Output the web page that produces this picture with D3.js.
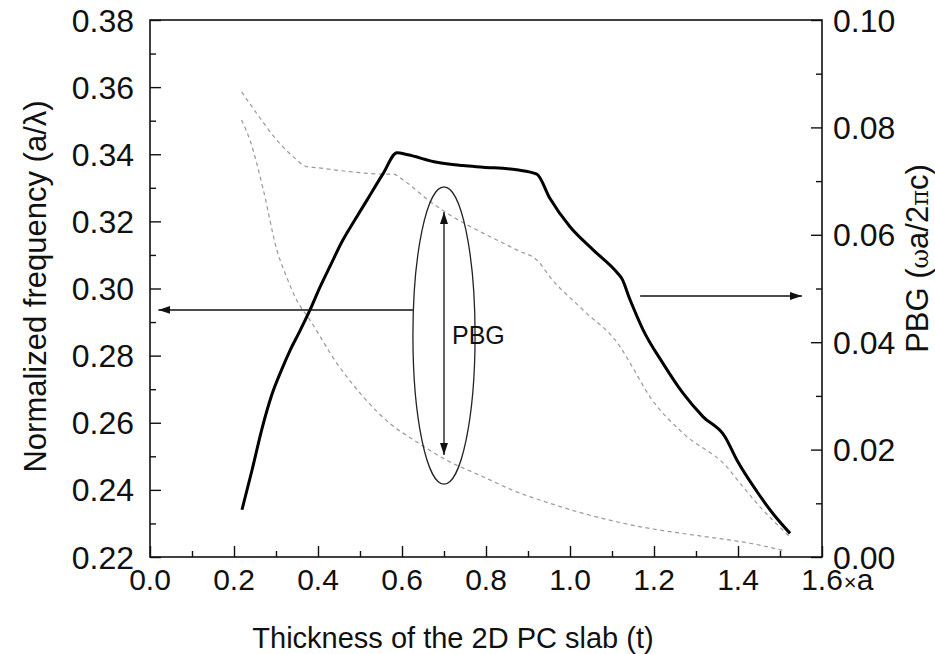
<!DOCTYPE html>
<html>
<head>
<meta charset="utf-8">
<script src="https://cdn.jsdelivr.net/npm/d3@7/dist/d3.min.js"></script>
<style>
  body { margin: 0; background: #fff; }
  text { font-family: "Liberation Sans", Arial, sans-serif; fill: #111; }
</style>
</head>
<body>
<div class="chart"></div>
<script>
// thickness t (in units of a)
const pbgT = [0.219, 0.243, 0.267, 0.290, 0.314, 0.333, 0.357, 0.381, 0.405, 0.429, 0.457, 0.488, 0.517, 0.555, 0.588, 0.614, 0.683, 0.745, 0.793, 0.873, 0.921, 0.952, 1.000, 1.055, 1.114, 1.123, 1.143, 1.174, 1.221, 1.269, 1.317, 1.369, 1.397, 1.445, 1.483, 1.524];
// photonic band gap width (right axis)
const pbgVal = [0.0088, 0.0162, 0.0240, 0.0302, 0.0350, 0.0384, 0.0421, 0.0460, 0.0503, 0.0542, 0.0587, 0.0628, 0.0665, 0.0714, 0.0753, 0.0749, 0.0735, 0.0729, 0.0726, 0.0721, 0.0713, 0.0668, 0.0615, 0.0572, 0.0528, 0.0519, 0.0479, 0.0423, 0.0361, 0.0305, 0.0261, 0.0224, 0.0181, 0.0122, 0.0081, 0.0044];

// upper band edge (left axis)
const upperT = [0.218, 0.254, 0.302, 0.341, 0.373, 0.397, 0.476, 0.555, 0.579, 0.603, 0.667, 0.714, 0.793, 0.873, 0.925, 0.952, 1.031, 1.119, 1.143, 1.190, 1.269, 1.373, 1.405, 1.452, 1.507, 1.524];
const upperVal = [0.3586, 0.3522, 0.3442, 0.3393, 0.3363, 0.3360, 0.3348, 0.3341, 0.3341, 0.3323, 0.3259, 0.3219, 0.3165, 0.3115, 0.3080, 0.3035, 0.2936, 0.2827, 0.2778, 0.2678, 0.2569, 0.2469, 0.2420, 0.2350, 0.2280, 0.2259];

// lower band edge (left axis)
const lowerT = [0.218, 0.238, 0.270, 0.302, 0.325, 0.349, 0.381, 0.445, 0.508, 0.571, 0.635, 0.698, 0.793, 0.873, 0.952, 1.031, 1.111, 1.190, 1.269, 1.349, 1.429, 1.512];
const lowerVal = [0.3502, 0.3442, 0.3293, 0.3115, 0.3035, 0.2966, 0.2906, 0.2777, 0.2677, 0.2598, 0.2543, 0.2494, 0.2439, 0.2394, 0.2360, 0.2330, 0.2305, 0.2285, 0.2270, 0.2256, 0.2241, 0.2218];

const xTicks = [0.0, 0.2, 0.4, 0.6, 0.8, 1.0, 1.2, 1.4, 1.6];
const yLeftTicks = [0.22, 0.24, 0.26, 0.28, 0.30, 0.32, 0.34, 0.36, 0.38];
const yRightTicks = [0.00, 0.02, 0.04, 0.06, 0.08, 0.10];

const W = 935, H = 654;
const mLeft = 150, mRight = 822, mTop = 20, mBottom = 557;

const x = d3.scaleLinear().domain([0, 1.6]).range([mLeft, mRight]);
const yL = d3.scaleLinear().domain([0.22, 0.38]).range([mBottom, mTop]);
const yR = d3.scaleLinear().domain([0, 0.10]).range([mBottom, mTop]);

const svg = d3.select('div.chart').append('svg')
  .attr('width', W).attr('height', H);

// arrow head
svg.append('defs').append('marker')
  .attr('id', 'head')
  .attr('viewBox', '0 0 12 8')
  .attr('refX', 12).attr('refY', 4)
  .attr('markerWidth', 12).attr('markerHeight', 8)
  .attr('markerUnits', 'userSpaceOnUse')
  .attr('orient', 'auto-start-reverse')
  .append('path').attr('d', 'M0,0L12,4L0,8Z').attr('fill', '#111');

// axes, ticks pointing inward
const axisStroke = g => {
  g.select('.domain').remove();
  g.selectAll('line').attr('stroke', '#111').attr('stroke-width', 1.4);
};

svg.append('g')
  .attr('transform', `translate(0,${mBottom})`)
  .call(d3.axisBottom(x).tickValues(d3.range(0.1, 1.6, 0.2)).tickSize(-6).tickFormat(''))
  .call(axisStroke);
svg.append('g')
  .attr('transform', `translate(0,${mBottom})`)
  .call(d3.axisBottom(x).tickValues(xTicks).tickSize(-11).tickFormat(''))
  .call(axisStroke);

svg.append('g')
  .attr('transform', `translate(${mLeft},0)`)
  .call(d3.axisLeft(yL).tickValues(d3.range(0.23, 0.38, 0.02)).tickSize(-6).tickFormat(''))
  .call(axisStroke);
svg.append('g')
  .attr('transform', `translate(${mLeft},0)`)
  .call(d3.axisLeft(yL).tickValues(yLeftTicks).tickSize(-11).tickFormat(''))
  .call(axisStroke);

svg.append('g')
  .attr('transform', `translate(${mRight},0)`)
  .call(d3.axisRight(yR).tickValues(d3.range(0.01, 0.1, 0.02)).tickSize(-6).tickFormat(''))
  .call(axisStroke);
svg.append('g')
  .attr('transform', `translate(${mRight},0)`)
  .call(d3.axisRight(yR).tickValues(yRightTicks).tickSize(-11).tickFormat(''))
  .call(axisStroke);

// frame
svg.append('rect')
  .attr('x', mLeft).attr('y', mTop)
  .attr('width', mRight - mLeft).attr('height', mBottom - mTop)
  .attr('fill', 'none').attr('stroke', '#111').attr('stroke-width', 1.6);

// tick labels
const fmt2 = d3.format('.2f');
svg.append('g').selectAll('text')
  .data(yLeftTicks).enter().append('text')
  .attr('x', mLeft - 16).attr('y', d => yL(d))
  .attr('dy', '0.36em')
  .attr('text-anchor', 'end')
  .style('font-size', '32px')
  .text(fmt2);

svg.append('g').selectAll('text')
  .data(yRightTicks).enter().append('text')
  .attr('x', mRight + 11).attr('y', d => yR(d))
  .attr('dy', '0.36em')
  .style('font-size', '32px')
  .text(fmt2);

const xLab = svg.append('g').selectAll('text')
  .data(xTicks).enter().append('text')
  .attr('x', d => x(d)).attr('y', mBottom + 33)
  .attr('text-anchor', 'middle')
  .style('font-size', '30px')
  .text(d3.format('.1f'));
// last label carries the unit: "1.6×a"
const lastLab = xLab.filter(d => d === 1.6);
const lastW = lastLab.node().getComputedTextLength();
lastLab.attr('text-anchor', 'start').attr('x', x(1.6) - lastW / 2);
lastLab.append('tspan').attr('dx', 1).style('font-size', '22px').text('×');
lastLab.append('tspan').text('a');

// axis titles
svg.append('text')
  .attr('x', (mLeft + mRight) / 2 - 33).attr('y', 648)
  .attr('text-anchor', 'middle')
  .style('font-size', '29px')
  .text('Thickness of the 2D PC slab (t)');

svg.append('text')
  .attr('transform', `translate(46,${(mTop + mBottom) / 2 - 2}) rotate(-90)`)
  .attr('text-anchor', 'middle')
  .style('font-size', '31px')
  .text('Normalized frequency (a/λ)');

svg.append('text')
  .attr('transform', `translate(928,${(mTop + mBottom) / 2 - 30}) rotate(-90)`)
  .attr('text-anchor', 'middle')
  .style('font-size', '31px')
  .html('PBG (<tspan style="font-family:\'DejaVu Serif\',serif;font-size:24px">ω</tspan>a/2<tspan style="font-family:\'DejaVu Serif\',serif;font-size:24px">π</tspan>c)');

// curves
const zip = (a, b) => a.map((v, i) => [v, b[i]]);

svg.append('path')
  .datum(zip(upperT, upperVal))
  .attr('fill', 'none').attr('stroke', '#9a9a9a').attr('stroke-width', 1.2)
  .attr('stroke-dasharray', '4,3.5')
  .attr('d', d3.line().x(d => x(d[0])).y(d => yL(d[1])).curve(d3.curveMonotoneX));

svg.append('path')
  .datum(zip(lowerT, lowerVal))
  .attr('fill', 'none').attr('stroke', '#9a9a9a').attr('stroke-width', 1.2)
  .attr('stroke-dasharray', '4,3.5')
  .attr('d', d3.line().x(d => x(d[0])).y(d => yL(d[1])).curve(d3.curveMonotoneX));

svg.append('path')
  .datum(zip(pbgT, pbgVal))
  .attr('fill', 'none').attr('stroke', '#000').attr('stroke-width', 3)
  .attr('stroke-linejoin', 'round')
  .attr('d', d3.line().x(d => x(d[0])).y(d => yR(d[1])).curve(d3.curveMonotoneX));

// annotations: ellipse, double arrow, side arrows
svg.append('ellipse')
  .attr('cx', x(0.7)).attr('cy', yL(0.286))
  .attr('rx', x(0.774) - x(0.7)).attr('ry', yL(0.286) - yL(0.3303))
  .attr('fill', 'none').attr('stroke', '#222').attr('stroke-width', 1.3);

svg.append('line')
  .attr('x1', x(0.7)).attr('x2', x(0.7))
  .attr('y1', yL(0.3228)).attr('y2', yL(0.2504))
  .attr('stroke', '#111').attr('stroke-width', 1.3)
  .attr('marker-start', 'url(#head)').attr('marker-end', 'url(#head)');

svg.append('line')
  .attr('x1', x(0.626)).attr('x2', x(0.02))
  .attr('y1', yL(0.2936)).attr('y2', yL(0.2936))
  .attr('stroke', '#111').attr('stroke-width', 1.3)
  .attr('marker-end', 'url(#head)');

svg.append('line')
  .attr('x1', x(1.167)).attr('x2', x(1.552))
  .attr('y1', yR(0.0486)).attr('y2', yR(0.0486))
  .attr('stroke', '#111').attr('stroke-width', 1.3)
  .attr('marker-end', 'url(#head)');

svg.append('text')
  .attr('x', x(0.719)).attr('y', yL(0.2834))
  .style('font-size', '25px')
  .text('PBG');
</script>
</body>
</html>
